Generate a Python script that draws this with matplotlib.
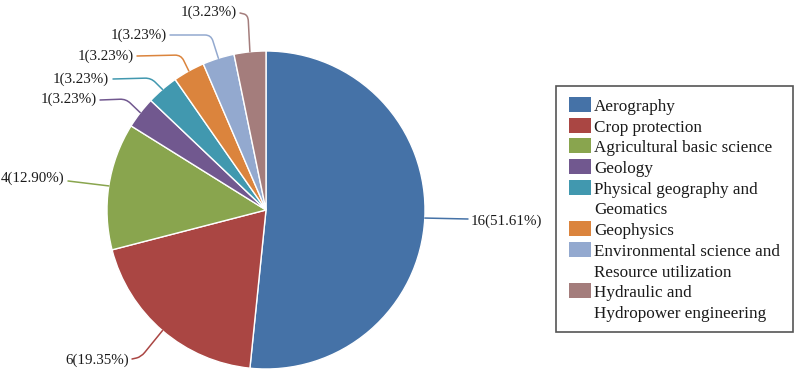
import matplotlib
matplotlib.use("Agg")
import matplotlib.pyplot as plt
from matplotlib.path import Path
from matplotlib.patches import PathPatch, Rectangle
import numpy as np

# ---------------- data ----------------
categories = ["Aerography", "Crop protection", "Agricultural basic science", "Geology",
              "Physical geography and\nGeomatics", "Geophysics",
              "Environmental science and\nResource utilization",
              "Hydraulic and\nHydropower engineering"]
counts = [16, 6, 4, 1, 1, 1, 1, 1]
colors = ["#4572A7", "#AA4643", "#89A54E", "#71588F", "#4198AF", "#DB843D", "#93A9CF", "#A47D7C"]

total = sum(counts)
value_labels = [f"{c}({c / total * 100:.2f}%)" for c in counts]

# ---------------- layout (pixel coords, y from top) ----------------
W, H = 796, 372
CX, CY, R = 266, 210, 159
FONT = ["Liberation Serif", "DejaVu Serif"]

def py(y):
    return H - y

# per label: text x, text baseline y, ha, line start, elbow (or None)
label_layout = [
    (471, 225, "left", (468, 219), None),
    (129, 364, "right", (132, 359), (141, 357)),
    (64, 182, "right", (68, 181), None),
    (97, 103, "right", (100, 100), (126, 99)),
    (109, 83, "right", (113, 79), (151, 78)),
    (134, 60, "right", (137, 56), (181, 55)),
    (167, 39, "right", (170, 35), (211, 35)),
    (237, 16, "right", (240, 13), (248, 15)),
]

fig = plt.figure(figsize=(W / 100, H / 100), dpi=100)
ax = fig.add_axes([0, 0, 1, 1])
ax.set_xlim(0, W)
ax.set_ylim(0, H)
ax.set_aspect("equal")
ax.axis("off")

wedges, _ = ax.pie(counts, colors=colors, startangle=90, counterclock=False,
                   center=(CX, py(CY)), radius=R, frame=True,
                   wedgeprops=dict(edgecolor="white", linewidth=1.0))
ax.set_xlim(0, W)
ax.set_ylim(0, H)
ax.axis("off")

for w, lab, col, (tx, ty, ha, T, E) in zip(wedges, value_labels, colors, label_layout):
    mid = np.deg2rad((w.theta1 + w.theta2) / 2)
    P = (CX + R * np.cos(mid), py(CY) + R * np.sin(mid))
    Tp = (T[0], py(T[1]))
    if E is None:
        verts = [Tp, P]
        codes = [Path.MOVETO, Path.LINETO]
    else:
        Ep = (E[0], py(E[1]))
        # rounded corner
        d1 = np.array(Ep) - np.array(Tp)
        d2 = np.array(P) - np.array(Ep)
        a = np.array(Ep) - d1 / max(np.linalg.norm(d1), 1e-9) * min(6, np.linalg.norm(d1) / 2)
        b = np.array(Ep) + d2 / max(np.linalg.norm(d2), 1e-9) * min(6, np.linalg.norm(d2) / 2)
        verts = [Tp, tuple(a), Ep, tuple(b), P]
        codes = [Path.MOVETO, Path.LINETO, Path.CURVE3, Path.CURVE3, Path.LINETO]
    ax.add_patch(PathPatch(Path(verts, codes), facecolor="none", edgecolor=col, lw=1.1,
                           capstyle="round"))
    ax.text(tx, py(ty), lab, ha=ha, va="baseline", fontsize=10.8, family=FONT, color="#1a1a1a")

# ---------------- legend (manual) ----------------
LX0, LY0, LX1, LY1 = 555.5, 86, 792.5, 332
ax.add_patch(Rectangle((LX0, py(LY1)), LX1 - LX0, LY1 - LY0, facecolor="white",
                       edgecolor="#555555", lw=1.2))
base0, pitch = 111, 20.7
line_idx = 0
for cat, col in zip(categories, colors):
    yb = base0 + line_idx * pitch
    ax.add_patch(Rectangle((569, py(yb + 1)), 22, 15, facecolor=col, edgecolor="none"))
    for k, part in enumerate(cat.split("\n")):
        ax.text(594, py(base0 + (line_idx + k) * pitch), part, ha="left", va="baseline",
                fontsize=12.3, family=FONT, color="#1a1a1a")
    line_idx += len(cat.split("\n"))

fig.savefig("out.png", dpi=100)
